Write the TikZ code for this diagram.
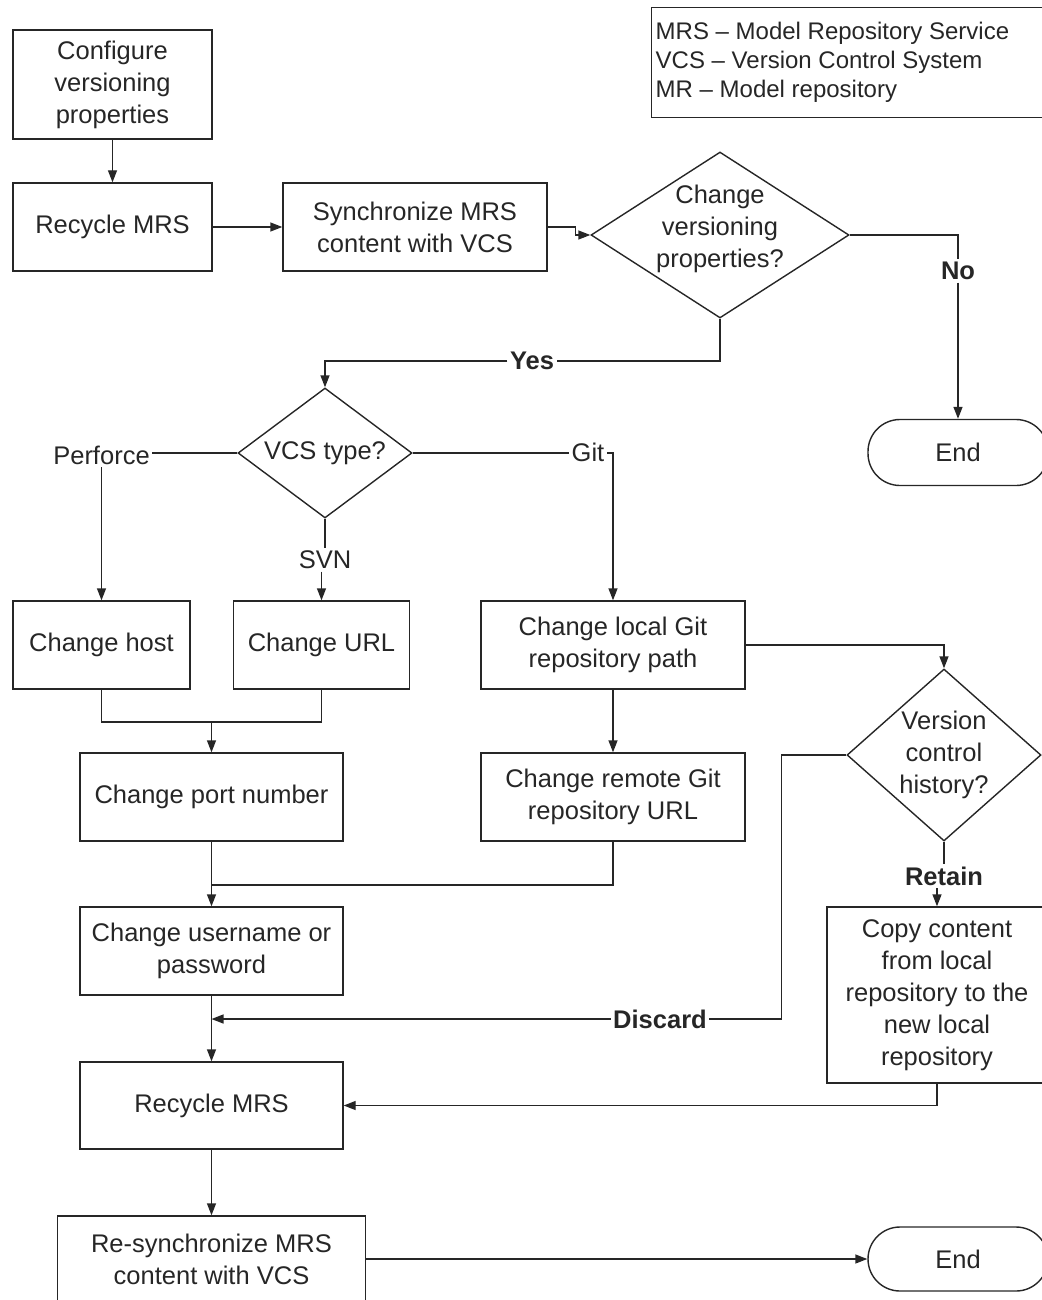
\documentclass[tikz,border=0pt]{standalone}
\usepackage{fontspec}
\setmainfont{Liberation Sans}
\usetikzlibrary{shapes.geometric,arrows.meta,calc}
\definecolor{ln}{HTML}{262626}
\begin{document}
\begin{tikzpicture}[x=1pt,y=1pt,line width=1.4pt,color=ln,
  every node/.style={font=\fontsize{25.5}{32}\selectfont},
  box/.style={draw,rectangle,align=center,inner sep=0pt},
  dia/.style={draw,diamond,inner sep=0pt},
  term/.style={draw,rectangle,rounded corners=32pt,inner sep=0pt},
  lbl/.style={inner sep=2pt},
  blbl/.style={inner sep=2pt,font=\fontsize{25.5}{32}\selectfont\bfseries},
  arr/.style={-{Triangle[length=12pt,width=9pt]}}]
\useasboundingbox (0,0) rectangle (1041,-1300);

% legend
\node[draw,rectangle,inner sep=0pt,minimum width=394,minimum height=110,anchor=north west] (leg) at (651,-7) {};
\node[anchor=west,align=left,inner sep=0pt,font=\fontsize{24}{29}\selectfont] (legt) at (655,-62)
  {MRS – Model Repository Service\\VCS – Version Control System\\MR – Model repository};

% nodes
\node[box,minimum width=199,minimum height=109] (cfg) at (112.5,-84.5) {Configure\\versioning\\properties};
\node[box,minimum width=199,minimum height=88] (rec1) at (112.5,-227) {Recycle MRS};
\node[box,minimum width=264,minimum height=88] (sync) at (415,-227) {Synchronize MRS\\content with VCS};
\node[dia,minimum width=258,minimum height=166,
  label={[align=center,yshift=6pt]center:Change\\versioning\\properties?}] (d1) at (720,-235) {};
\node[term,minimum width=180,minimum height=66] (endA) at (958,-452.5) {End};
\node[dia,minimum width=174,minimum height=130,
  label={[align=center]center:VCS type?}] (d2) at (325,-453) {};
\node[box,minimum width=177,minimum height=88] (host) at (101.5,-645) {Change host};
\node[box,minimum width=176,minimum height=88] (url) at (321.5,-645) {Change URL};
\node[box,minimum width=264,minimum height=88] (lgit) at (613,-645) {Change local Git\\repository path};
\node[dia,minimum width=194,minimum height=172,
  label={[align=center]center:Version\\control\\history?}] (d3) at (944,-755) {};
\node[box,minimum width=263,minimum height=88] (port) at (211.5,-797) {Change port number};
\node[box,minimum width=264,minimum height=88] (rgit) at (613,-797) {Change remote Git\\repository URL};
\node[box,minimum width=263,minimum height=88] (user) at (211.5,-951) {Change username or\\password};
\node[box,minimum width=220,minimum height=176] (copy) at (937,-995) {Copy content\\from local\\repository to the\\new local\\repository};
\node[box,minimum width=263,minimum height=87] (rec2) at (211.5,-1105.5) {Recycle MRS};
\node[box,minimum width=308,minimum height=86] (resync) at (211.5,-1259) {Re-synchronize MRS\\content with VCS};
\node[term,minimum width=180,minimum height=64] (endB) at (958,-1259) {End};

% labels
\node[blbl] (no) at (958,-271) {No};
\node[blbl] (yes) at (532,-361) {Yes};
\node[lbl] (perf) at (101.5,-455) {Perforce};
\node[lbl] (git) at (588,-452) {Git};
\node[lbl] (svn) at (325,-560) {SVN};
\node[blbl] (ret) at (944,-876) {Retain};
\node[blbl] (disc) at (660,-1019) {Discard};
\coordinate (m1) at (211.5,-722);
\coordinate (m2) at (211.5,-885);
\coordinate (m3) at (211.5,-1019);

% connectors
\draw[arr] (cfg.south) -- (rec1.north);
\draw[arr] (rec1.east) -- (sync.west);
\draw[arr] (sync.east) -- ++(28,0) |- (d1.west);
\draw (d1.east) -| (no.north);
\draw[arr] (no.south) -- (endA.north);
\draw (d1.south) |- (yes.east);
\draw[arr] (yes.west) -| (d2.north);
\draw (d2.west) -- (d2.west -| perf.east);
\draw[arr] (perf.south) -- (host.north);
\draw (d2.east) -- (d2.east -| git.west);
\draw[arr] (git.east |- d2.east) -| (lgit.north);
\draw (d2.south) -- (svn.north);
\draw[arr] (svn.south -| url.north) -- (url.north);
\draw (host.south) |- (m1) -| (url.south);
\draw[arr] (m1) -- (port.north);
\draw[arr] (lgit.south) -- (rgit.north);
\draw[arr] (lgit.east) -| (d3.north);
\draw[arr] (port.south) -- (user.north);
\draw (rgit.south) |- (m2);
\draw (d3.south) -- (ret.north);
\draw[arr] (ret.south -| copy.north) -- (copy.north);
\draw (d3.west) -- ++(-65,0) |- (disc.east);
\draw[arr] (disc.west) -- (m3);
\draw[arr] (user.south) -- (rec2.north);
\draw[arr] (copy.south) |- (rec2.east);
\draw[arr] (rec2.south) -- (resync.north);
\draw[arr] (resync.east) -- (resync.east -| endB.west);
\end{tikzpicture}
\end{document}
